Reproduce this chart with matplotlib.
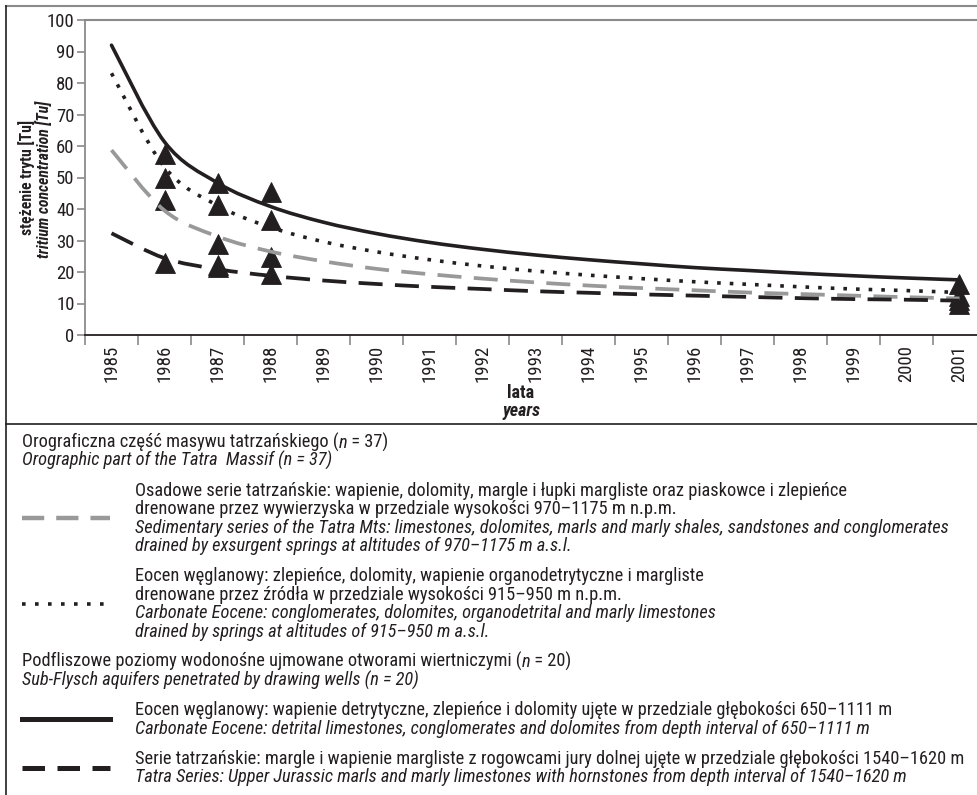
import numpy as np
import matplotlib.pyplot as plt
from matplotlib.lines import Line2D
from matplotlib.path import Path
from matplotlib.patches import PathPatch

plt.rcParams['font.family'] = ['Roboto Condensed', 'Liberation Sans', 'DejaVu Sans']

W, H = 977, 795
INK = '#231f20'
GREY_LINE = '#999999'
AXIS_GREY = '#8a8a8a'

years = list(range(1985, 2002))

# power-type trend curves, tritium [Tu], one value per year 1985-2001
trend_eocene_wells = [92.0, 61.3, 48.3, 40.8, 35.8, 32.2, 29.4, 27.2, 25.4,
                      23.9, 22.6, 21.4, 20.5, 19.6, 18.8, 18.1, 17.5]
trend_eocene_springs = [83.1, 53.3, 41.1, 34.2, 29.6, 26.4, 23.9, 21.9, 20.3,
                        19.0, 17.9, 16.9, 16.1, 15.3, 14.6, 14.1, 13.5]
trend_tatra_springs = [58.7, 39.5, 31.3, 26.5, 23.4, 21.0, 19.3, 17.9, 16.7,
                       15.7, 14.9, 14.2, 13.5, 13.0, 12.5, 12.0, 11.6]
trend_tatra_wells = [32.3, 24.4, 20.9, 18.8, 17.3, 16.2, 15.3, 14.6, 13.9,
                     13.4, 12.9, 12.5, 12.1, 11.7, 11.4, 11.2, 10.9]

# measured samples
sample_years = [1986, 1986, 1986, 1986,
                1987, 1987, 1987, 1987, 1987,
                1988, 1988, 1988, 1988,
                2001, 2001, 2001, 2001]
sample_tritium = [57.5, 50.0, 42.9, 23.0,
                  48.4, 41.3, 28.8, 22.2, 21.6,
                  45.5, 36.5, 24.9, 19.4,
                  16.3, 12.5, 11.0, 10.0]


def px(x, y):
    return x / W, 1 - y / H


def smooth_path(xs, ys):
    # Catmull-Rom through the points, written as cubic Bezier segments
    pts = np.column_stack([xs, ys]).astype(float)
    n = len(pts)
    verts = [pts[0]]
    codes = [Path.MOVETO]
    for i in range(n - 1):
        p0 = pts[max(i - 1, 0)]
        p1 = pts[i]
        p2 = pts[i + 1]
        p3 = pts[min(i + 2, n - 1)]
        verts += [p1 + (p2 - p0) / 6, p2 - (p3 - p1) / 6, p2]
        codes += [Path.CURVE4] * 3
    return Path(verts, codes)


fig = plt.figure(figsize=(W / 100, H / 100), dpi=100)

ax = fig.add_axes([85 / W, 1 - 335 / H, 901 / W, 315 / H])
xpos = np.arange(len(years))
ax.set_xlim(-0.5, len(years) - 0.5)
ax.set_ylim(0, 100)

# measurement points
sx = [years.index(y) for y in sample_years]
ax.plot(sx, sample_tritium, linestyle='none', marker='^', ms=14, color=INK,
        mec=INK, mew=0.6, zorder=2)

# trend curves
curves = [
    (trend_tatra_springs, GREY_LINE, 2.7, (0, (6.4, 3.3)), 'butt'),
    (trend_eocene_springs, INK, 2.6, (0, (1.0, 2.5)), 'butt'),
    (trend_eocene_wells, INK, 2.6, '-', 'round'),
    (trend_tatra_wells, INK, 2.7, (0, (6.4, 3.3)), 'butt'),
]
for vals, col, lw, ls, cap in curves:
    patch = PathPatch(smooth_path(xpos, vals), fill=False, edgecolor=col,
                      lw=lw, linestyle=ls, capstyle=cap, zorder=3)
    ax.add_patch(patch)

# axes styling
ax.set_yticks(range(0, 101, 10))
ax.set_xticks(xpos)
ax.set_xticklabels([str(y) for y in years], rotation=90)
ax.set_xticks(np.arange(-0.5, len(years) + 0.5, 1), minor=True)
ax.tick_params(axis='y', direction='out', length=6, width=1.2, color=AXIS_GREY,
               labelsize=13.5, pad=1.5, labelcolor=INK)
ax.tick_params(axis='x', which='major', length=0, labelsize=13.5, pad=7,
               labelcolor=INK)
ax.tick_params(axis='x', which='minor', direction='out', length=7, width=1.2,
               color=AXIS_GREY)
ax.spines['left'].set_color(AXIS_GREY)
ax.spines['left'].set_linewidth(1.3)
ax.spines['top'].set_color(AXIS_GREY)
ax.spines['top'].set_linewidth(1.5)
ax.spines['bottom'].set_color(INK)
ax.spines['bottom'].set_linewidth(1.3)
ax.spines['right'].set_visible(False)

# axis titles
fig.text(*px(27, 177), 'stężenie trytu [Tu]', rotation=90, ha='center',
         va='center', fontsize=11.3, fontweight='bold', color=INK)
fig.text(*px(44, 179), 'tritium concentration [Tu]', rotation=90,
         ha='center', va='center', fontsize=11.3, fontweight='bold',
         fontstyle='italic', color=INK)
fig.text(*px(521, 393), 'lata', ha='center', va='center', fontsize=13,
         fontweight='bold', color=INK)
fig.text(*px(521, 411), 'years', ha='center', va='center', fontsize=13,
         fontweight='bold', fontstyle='italic', color=INK)

# outer frame and separator
fig.add_artist(Line2D([6 / W, 1], [1 - 6 / H] * 2, transform=fig.transFigure,
                      color=AXIS_GREY, lw=1.5))
fig.add_artist(Line2D([6 / W] * 2, [1 - 6 / H, 0], transform=fig.transFigure,
                      color=INK, lw=1.2))
fig.add_artist(Line2D([6 / W, 1], [1 - 424 / H] * 2, transform=fig.transFigure,
                      color=INK, lw=1.2))

# legend block
FS = 13.2
TX = 135


def line_text(x, y, s, italic=False):
    return fig.text(*px(x, y), s, ha='left', va='center', fontsize=FS,
                    color=INK, fontstyle='italic' if italic else 'normal')


def header_with_n(y, head, count):
    # upright text with an italic "n" inside the brackets
    t = line_text(22, y, head + ' (')
    t = ax.annotate('n', xy=(1, 0), xycoords=t, ha='left', va='bottom',
                    fontsize=FS, color=INK, fontstyle='italic',
                    annotation_clip=False)
    ax.annotate(f' = {count})', xy=(1, 0), xycoords=t, ha='left',
                va='bottom', fontsize=FS, color=INK, annotation_clip=False)


def sample(y, col, lw, ls):
    fig.add_artist(Line2D([22 / W, 110 / W], [1 - y / H] * 2,
                          transform=fig.transFigure, color=col, lw=lw,
                          linestyle=ls, dash_capstyle='butt'))


header_with_n(442, 'Orograficzna część masywu tatrzańskiego', 37)
line_text(22, 460.5, 'Orographic part of the Tatra  Massif (n = 37)', True)

line_text(TX, 490.5, 'Osadowe serie tatrzańskie: wapienie, dolomity, margle i łupki margliste oraz piaskowce i zlepieńce')
line_text(TX, 509, 'drenowane przez wywierzyska w przedziale wysokości 970–1175 m n.p.m.')
line_text(TX, 527.5, 'Sedimentary series of the Tatra Mts: limestones, dolomites, marls and marly shales, sandstones and conglomerates', True)
line_text(TX, 546, 'drained by exsurgent springs at altitudes of 970–1175 m a.s.l.', True)
sample(518, GREY_LINE, 3.2, (0, (5.0, 2.7)))

line_text(TX, 576, 'Eocen węglanowy: zlepieńce, dolomity, wapienie organodetrytyczne i margliste')
line_text(TX, 594.5, 'drenowane przez źródła w przedziale wysokości 915–950 m n.p.m.')
line_text(TX, 613, 'Carbonate Eocene: conglomerates, dolomites, organodetrital and marly limestones', True)
line_text(TX, 631.5, 'drained by springs at altitudes of 915–950 m a.s.l.', True)
sample(604, INK, 2.6, (0, (1.0, 2.6)))

header_with_n(661.5, 'Podfliszowe poziomy wodonośne ujmowane otworami wiertniczymi', 20)
line_text(22, 680, 'Sub-Flysch aquifers penetrated by drawing wells (n = 20)', True)

line_text(TX, 710, 'Eocen węglanowy: wapienie detrytyczne, zlepieńce i dolomity ujęte w przedziale głębokości 650–1111 m')
line_text(TX, 728.5, 'Carbonate Eocene: detrital limestones, conglomerates and dolomites from depth interval of 650–1111 m', True)
sample(719, INK, 3.6, '-')

line_text(TX, 758.5, 'Serie tatrzańskie: margle i wapienie margliste z rogowcami jury dolnej ujęte w przedziale głębokości 1540–1620 m')
line_text(TX, 777, 'Tatra Series: Upper Jurassic marls and marly limestones with hornstones from depth interval of 1540–1620 m', True)
sample(768, INK, 3.6, (0, (4.5, 2.5)))

fig.savefig('out.png', dpi=100)
